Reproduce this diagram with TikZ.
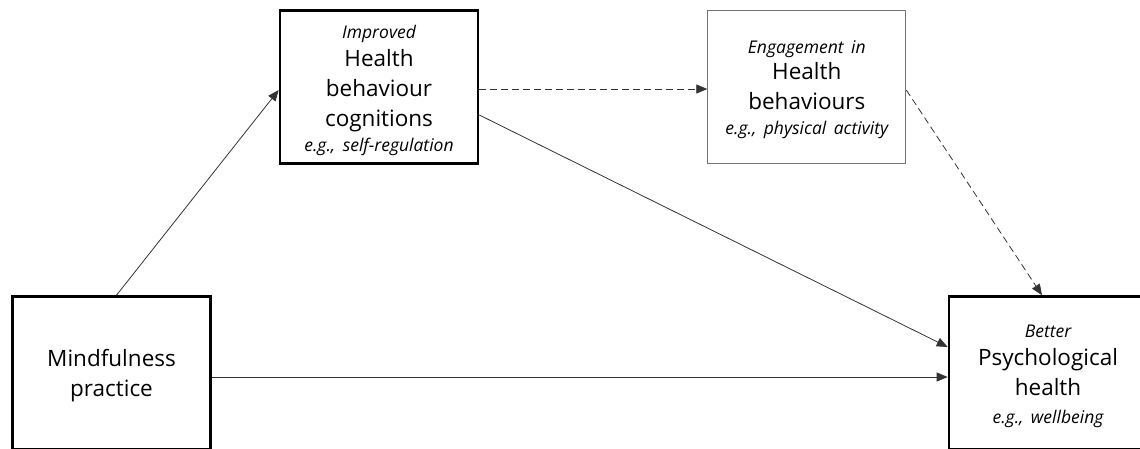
\documentclass[tikz,border=0pt]{standalone}
\usepackage{fontspec}
\setmainfont{Open Sans}[WordSpace=0.8]
\usepackage{tikz}
\usetikzlibrary{arrows.meta,positioning}

\newcommand{\smallit}[1]{{\fontsize{17.5}{20}\selectfont\itshape #1}}
\newcommand{\topstrut}[1]{\rule{0pt}{#1}}
\frenchspacing

\begin{document}
\begin{tikzpicture}[
    x=1pt, y=-1pt,
    block/.style={rectangle, draw, line width=2.6pt, fill=white, text width=190pt, align=center, minimum width=198pt, minimum height=153pt, inner sep=0pt, font=\fontsize{22.5}{30}\selectfont},
    thinblock/.style={block, line width=1pt, draw=black!55},
    line/.style={draw, line width=0.8pt, draw=black!80, -{Triangle[length=11pt,width=9pt]}},
    dashline/.style={line, dash pattern=on 7pt off 4pt}
]
    \useasboundingbox (0,0) rectangle (1140,448);

    \node [block] (mind) at (111.5,373) {\topstrut{23pt}Mindfulness\\practice};
    \node [block] (cog) at (379,87) {\topstrut{20pt}\smallit{Improved}\\[-2pt]Health\\behaviour\\cognitions\\[-5pt]\smallit{e.g., self-regulation}};
    \node [thinblock, right=228pt of cog] (eng) {\topstrut{19pt}\smallit{Engagement in}\\[-4pt]Health\\behaviours\\[-5pt]\smallit{e.g., physical activity}};
    \node [block] (psych) at (1048,373) {\topstrut{19pt}\smallit{Better}\\[-2pt]Psychological\\health\\[-2pt]\smallit{e.g., wellbeing}};

    \path [line] ([xshift=5pt]mind.north) -- ([yshift=-3pt]cog.west);
    \path [dashline] ([yshift=-2pt]cog.east) -- ([yshift=-2pt]eng.west);
    \path [line] ([yshift=-28pt]cog.east) -- ([yshift=26pt]psych.west);
    \path [dashline] ([yshift=-3pt]eng.east) -- ([xshift=-6pt]psych.north);
    \path [line] ([yshift=-4pt]mind.east) -- ([yshift=-4pt]psych.west);
\end{tikzpicture}
\end{document}
